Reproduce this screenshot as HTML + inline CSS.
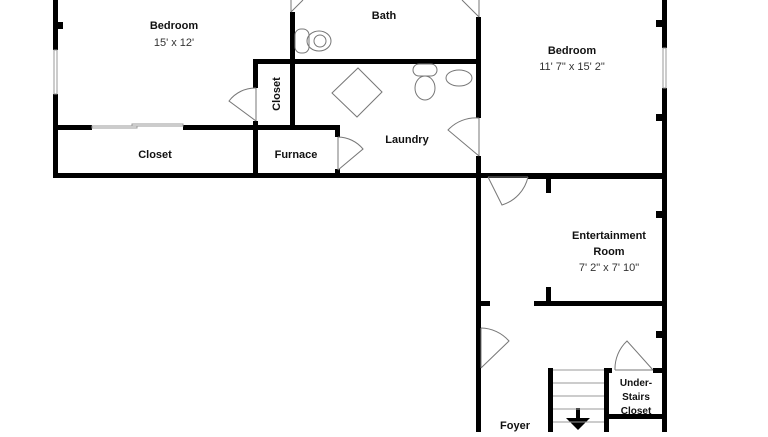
<!DOCTYPE html>
<html><head><style>
body{margin:0;background:#fff;width:768px;height:432px;overflow:hidden}
text{font-family:"Liberation Sans",sans-serif;fill:#111;text-anchor:middle}
</style></head><body>
<svg width="768" height="432" viewBox="0 0 768 432">
<g fill="#000">
<!-- left block -->
<rect x="53" y="0" width="5" height="50"/>
<rect x="53" y="94" width="5" height="84"/>
<rect x="53" y="22" width="10" height="7"/>
<rect x="53" y="173" width="613" height="5"/>
<rect x="53" y="125" width="39" height="5"/>
<rect x="183" y="125" width="155" height="5"/>
<rect x="253" y="59" width="5" height="29"/>
<rect x="253" y="121" width="5" height="55"/>
<rect x="253" y="59" width="226" height="5"/>
<rect x="290" y="12" width="5" height="118"/>
<rect x="335" y="125" width="5" height="12"/>
<rect x="335" y="169" width="5" height="7"/>
<rect x="476" y="17" width="5" height="101"/>
<rect x="476" y="156" width="5" height="276"/>
<!-- right bedroom -->
<rect x="662" y="0" width="5" height="48"/>
<rect x="662" y="88" width="5" height="344"/>
<rect x="656" y="20" width="8" height="7"/>
<rect x="656" y="114" width="8" height="7"/>
<rect x="528" y="174" width="138" height="5"/>
<rect x="546" y="177" width="5" height="16"/>
<rect x="656" y="211" width="8" height="7"/>
<rect x="534" y="301" width="131" height="5"/>
<rect x="546" y="287" width="5" height="16"/>
<rect x="478" y="301" width="12" height="5"/>
<rect x="656" y="331" width="8" height="7"/>
<!-- stairs -->
<rect x="548" y="368" width="5" height="64"/>
<rect x="604" y="368" width="5" height="64"/>
<rect x="604" y="368" width="8" height="5"/>
<rect x="653" y="368" width="12" height="5"/>
<rect x="604" y="414" width="60" height="5"/>
<rect x="576" y="408" width="4" height="14"/>
<polygon points="566,418 590,418 578,430"/>
</g>
<g stroke="#999" stroke-width="1" fill="none">
<line x1="553" y1="370" x2="604" y2="370"/>
<line x1="553" y1="383" x2="604" y2="383"/>
<line x1="553" y1="396" x2="604" y2="396"/>
<line x1="553" y1="409" x2="604" y2="409"/>
<line x1="553" y1="422" x2="604" y2="422"/>
<rect x="54" y="50" width="3" height="44"/>
<rect x="663" y="48" width="3" height="40"/>
<rect x="92" y="126" width="45" height="2"/>
<rect x="132" y="124" width="51" height="2"/>
</g>
<g stroke="#777" stroke-width="1" fill="none">
<!-- doors -->
<line x1="256" y1="88" x2="256" y2="121"/><path d="M256,88 A33,33 0 0 0 229,101 L256,121"/>
<line x1="338" y1="137" x2="338" y2="170"/><path d="M338,137 A33,33 0 0 1 363,149 L338,170"/>
<line x1="479" y1="118" x2="479" y2="156"/><path d="M479,118 A38,38 0 0 0 448,130 L479,156"/>
<line x1="291" y1="0" x2="291" y2="12"/><path d="M291,12 L303,0"/>
<line x1="479" y1="0" x2="479" y2="17"/><path d="M479,17 L462,0"/>
<line x1="488" y1="177" x2="528" y2="177"/><path d="M488,177 L502,205 A38,38 0 0 0 528,177"/>
<line x1="481" y1="328" x2="481" y2="368"/><path d="M481,328 A38,38 0 0 1 509,341 L481,368"/>
<line x1="615" y1="370" x2="653" y2="370"/><path d="M615,370 A38,38 0 0 1 627,341 L653,370"/>
<!-- fixtures -->
<rect x="295" y="29" width="14" height="24" rx="6"/><ellipse cx="319" cy="41" rx="12" ry="10"/><ellipse cx="320" cy="41" rx="6" ry="6"/>
<rect x="413" y="64" width="24" height="12" rx="6"/><ellipse cx="425" cy="88" rx="10" ry="12"/>
<ellipse cx="459" cy="78" rx="13" ry="8"/>
<polygon points="332,93 358,68 382,92 357,117"/>
</g>
<g font-size="11">
<text x="174" y="29" font-weight="bold">Bedroom</text>
<text x="174" y="46" fill="#333" style="fill:#333">15' x 12'</text>
<text x="384" y="19" font-weight="bold">Bath</text>
<text x="572" y="54" font-weight="bold">Bedroom</text>
<text x="572" y="70" style="fill:#333">11' 7" x 15' 2"</text>
<text x="155" y="158" font-weight="bold">Closet</text>
<text x="296" y="158" font-weight="bold">Furnace</text>
<text x="407" y="143" font-weight="bold">Laundry</text>
<text x="609" y="239" font-weight="bold">Entertainment</text>
<text x="609" y="255" font-weight="bold">Room</text>
<text x="609" y="271" style="fill:#333">7' 2" x 7' 10"</text>
<text x="515" y="429" font-weight="bold">Foyer</text>
<text x="636" y="386" font-weight="bold" font-size="10">Under-</text>
<text x="636" y="400" font-weight="bold" font-size="10">Stairs</text>
<text x="636" y="414" font-weight="bold" font-size="10">Closet</text>
<text transform="translate(280,94) rotate(-90)" font-weight="bold">Closet</text>
</g>
</svg>
</body></html>
